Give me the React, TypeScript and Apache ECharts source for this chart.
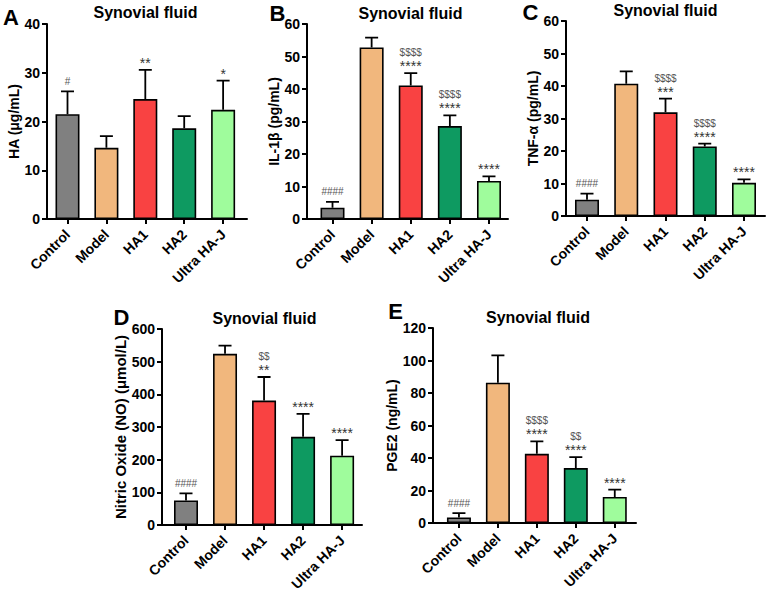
import React, { useEffect, useRef } from "react";
import * as echarts from "echarts";

const categories = ["Control", "Model", "HA1", "HA2", "Ultra HA-J"];
const barColors = ["#808080", "#F1B77D", "#F94242", "#0E9A61", "#9FFC9C"];

const haMean = [21.5, 14.6, 24.6, 18.6, 22.4];
const haSd = [4.7, 2.4, 6.0, 2.5, 6.0];
const haMarks = ["#", "", "**", "", "*"];

const il1bMean = [3.5, 52.8, 41.1, 28.6, 11.7];
const il1bSd = [1.8, 3.0, 3.8, 3.3, 1.4];
const il1bMarks = ["####", "", "$$$$\n****", "$$$$\n****", "****"];

const tnfMean = [5.0, 40.7, 31.9, 21.4, 10.2];
const tnfSd = [1.9, 3.8, 4.2, 0.9, 1.1];
const tnfMarks = ["####", "", "$$$$\n***", "$$$$\n****", "****"];

const noMean = [75, 524, 381, 270, 212];
const noSd = [22, 25, 72, 70, 48];
const noMarks = ["####", "", "$$\n**", "****", "****"];

const pge2Mean = [3.4, 86.3, 42.6, 33.8, 16.0];
const pge2Sd = [2.7, 16.8, 7.6, 6.8, 4.5];
const pge2Marks = ["####", "", "$$$$\n****", "$$\n****", "****"];

const panelLetters = ["A", "B", "C", "D", "E"];
const panelTitle = "Synovial fluid";
const yNames = ["HA (μg/mL)", "IL-1β (pg/mL)", "TNF-α (pg/mL)", "Nitric Oxide (NO) (μmol/L)", "PGE2 (ng/mL)"];
const yMax = [40, 60, 60, 600, 120];
const yInterval = [10, 10, 10, 100, 20];

const FONT = "Liberation Sans";

const layout = [
  { left: 47, top: 24, width: 200, height: 195, xMin: -0.527, xMax: 4.614, gap: 25, nameSize: 14, title: [145.5, 12.5], letter: [11, 17.5] },
  { left: 307, top: 24, width: 201, height: 195, xMin: -0.652, xMax: 4.486, gap: 17, nameSize: 14, title: [410.5, 13], letter: [277.5, 13.5] },
  { left: 566, top: 21, width: 199, height: 195, xMin: -0.535, xMax: 4.535, gap: 23, nameSize: 14, title: [665.5, 10], letter: [530.5, 12] },
  { left: 162, top: 329, width: 200, height: 196, xMin: -0.615, xMax: 4.51, gap: 29, nameSize: 15, title: [264.5, 318.7], letter: [121.5, 317] },
  { left: 433, top: 328, width: 203, height: 195, xMin: -0.666, xMax: 4.545, gap: 25, nameSize: 14, title: [538, 317], letter: [395.5, 311] },
];

const panels = [
  { mean: haMean, sd: haSd, marks: haMarks },
  { mean: il1bMean, sd: il1bSd, marks: il1bMarks },
  { mean: tnfMean, sd: tnfSd, marks: tnfMarks },
  { mean: noMean, sd: noSd, marks: noMarks },
  { mean: pge2Mean, sd: pge2Sd, marks: pge2Marks },
];

function buildOption() {
  const grid: any[] = [];
  const xAxis: any[] = [];
  const yAxis: any[] = [];
  const series: any[] = [];
  const graphic: any[] = [];

  panels.forEach((p, k) => {
    const L = layout[k];
    grid.push({ left: L.left, top: L.top, width: L.width, height: L.height, containLabel: false });
    xAxis.push({
      type: "value",
      gridIndex: k,
      min: L.xMin,
      max: L.xMax,
      splitLine: { show: false },
      axisLine: { show: true, onZero: false, lineStyle: { color: "#000", width: 2 } },
      axisTick: { show: true, customValues: [0, 1, 2, 3, 4], length: 5, lineStyle: { color: "#000", width: 2 } },
      axisLabel: {
        customValues: [0, 1, 2, 3, 4],
        formatter: (v: number) => categories[Math.round(v)] ?? "",
        rotate: 45,
        margin: 13,
        color: "#000",
        fontWeight: "bold",
        fontSize: 14,
        fontFamily: FONT,
      },
    });
    yAxis.push({
      type: "value",
      gridIndex: k,
      min: 0,
      max: yMax[k],
      interval: yInterval[k],
      name: yNames[k],
      nameLocation: "middle",
      nameGap: L.gap,
      nameTextStyle: { color: "#000", fontWeight: "bold", fontSize: L.nameSize, fontFamily: FONT },
      splitLine: { show: false },
      axisLine: { show: true, onZero: false, lineStyle: { color: "#000", width: 2 } },
      axisTick: { show: true, length: 5, lineStyle: { color: "#000", width: 2 } },
      axisLabel: { color: "#000", fontWeight: "bold", fontSize: 14, fontFamily: FONT, margin: 7 },
    });
    series.push({
      type: "bar",
      xAxisIndex: k,
      yAxisIndex: k,
      barWidth: 24,
      z: 2,
      itemStyle: { borderColor: "#000", borderWidth: 1.6 },
      data: p.mean.map((v, i) => ({ value: [i, v], itemStyle: { color: barColors[i] } })),
    });
    series.push({
      type: "custom",
      xAxisIndex: k,
      yAxisIndex: k,
      z: 3,
      clip: false,
      data: p.mean.map((v, i) => [i, v, p.sd[i]]),
      renderItem: (params: any, api: any) => {
        const i = api.value(0);
        const m = api.value(1);
        const s = api.value(2);
        const base = api.coord([i, m]);
        const top = api.coord([i, m + s]);
        return {
          type: "polyline",
          shape: { points: [[base[0], base[1]], [top[0], top[1]], [top[0] - 6.5, top[1]], [top[0] + 6.5, top[1]]] },
          style: { stroke: "#000", lineWidth: 1.8, fill: "none" },
        };
      },
    });
    series.push({
      type: "custom",
      xAxisIndex: k,
      yAxisIndex: k,
      z: 4,
      clip: false,
      data: p.mean.map((v, i) => [i, v + p.sd[i]]),
      renderItem: (params: any, api: any) => {
        const top = api.coord([api.value(0), api.value(1)]);
        const lines = (p.marks[params.dataIndex] || "").split("\n").filter(Boolean).reverse();
        const children: any[] = [];
        let off = 0;
        let prevStar = false;
        lines.forEach((ln: string, j: number) => {
          const star = ln.indexOf("*") >= 0;
          const d = j === 0 ? (star ? 7 : 10) : off + (prevStar ? 13.5 : 11);
          off = d;
          prevStar = star;
          children.push({
            type: "text",
            x: top[0],
            y: top[1] - d,
            style: {
              text: ln,
              fill: star ? "#333" : "#555",
              fontSize: star ? 14 : 10,
              fontFamily: FONT,
              align: "center",
              verticalAlign: "middle",
            },
          });
        });
        return { type: "group", children };
      },
    });
    graphic.push({
      type: "text",
      x: L.title[0],
      y: L.title[1],
      style: { text: panelTitle, fill: "#000", fontSize: 16, fontWeight: "bold", fontFamily: FONT, align: "center", verticalAlign: "middle" },
    });
    graphic.push({
      type: "text",
      x: L.letter[0],
      y: L.letter[1],
      style: { text: panelLetters[k], fill: "#000", fontSize: 22, fontWeight: "bold", fontFamily: FONT, align: "center", verticalAlign: "middle" },
    });
  });

  return { animation: false, backgroundColor: "#fff", grid, xAxis, yAxis, series, graphic };
}

export default function App() {
  const ref = useRef<HTMLDivElement>(null);
  useEffect(() => {
    if (!ref.current) return;
    const chart = echarts.init(ref.current, null, { renderer: "svg" });
    chart.setOption(buildOption() as any);
    return () => chart.dispose();
  }, []);
  return <div ref={ref} style={{ position: "fixed", left: 0, top: 0, width: 767, height: 596, background: "#fff" }} />;
}
